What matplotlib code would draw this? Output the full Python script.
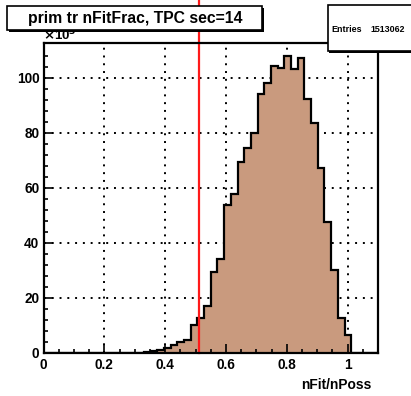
import numpy as np
import matplotlib
matplotlib.use("Agg")
import matplotlib.pyplot as plt
from matplotlib.patches import Rectangle
import matplotlib.transforms as mtransforms

# ---- data (thousands of entries per bin) ----
bin_edges = np.linspace(0.0, 1.1, 51)
counts = [0, 0, 0, 0, 0, 0, 0, 0, 0, 0,
          0, 0, 0, 0, 0, 0.4, 0.7, 1.1, 1.8, 2.9,
          3.8, 4.6, 10.1, 12.6, 17.0, 29.5, 34.1, 53.6, 57.8, 69.5,
          74.3, 79.8, 94.2, 97.9, 104.2, 103.7, 107.8, 103.3, 107.2, 92.4,
          83.6, 67.2, 47.4, 30.1, 12.5, 6.4, 0, 0, 0, 0]
cut_value = 0.51
x_ticks = [0, 0.2, 0.4, 0.6, 0.8, 1.0]
x_ticklabels = ["0", "0.2", "0.4", "0.6", "0.8", "1"]
y_ticks = [0, 20, 40, 60, 80, 100]
y_ticklabels = ["0", "20", "40", "60", "80", "100"]
title = "prim tr nFitFrac, TPC sec=14"
x_label = "nFit/nPoss"
entries = "1513062"

plt.rcParams['font.family'] = ['Liberation Sans', 'DejaVu Sans']
plt.rcParams['font.weight'] = 'bold'

W, H = 411, 396
fig = plt.figure(figsize=(W / 100, H / 100), dpi=100)
ax_l, ax_r, ax_t, ax_b = 43.5, 378.0, 42.5, 352.7
ax = fig.add_axes([ax_l / W, 1 - ax_b / H, (ax_r - ax_l) / W, (ax_b - ax_t) / H])

ax.set_xlim(0, 1.1)
ax.set_ylim(0, 112.8)

# grid
for xv in x_ticks[1:]:
    ax.axvline(xv, color='black', lw=1.4, ls=(0, (1, 3.0)), zorder=0.5)
for yv in y_ticks[1:]:
    ax.axhline(yv, color='black', lw=1.4, ls=(0, (1, 3.0)), zorder=0.5)

ax.stairs(counts, bin_edges, fill=True, color='#c99a7e', zorder=1)
ax.stairs(counts, bin_edges, color='black', lw=1.6, zorder=2, baseline=0)

# cut line, extends to the top of the picture
trans = mtransforms.blended_transform_factory(ax.transData, ax.transAxes)
ax.plot([cut_value, cut_value], [0, ax_b / (ax_b - ax_t)], color='#ff1a1a',
        lw=1.6, transform=trans, clip_on=False, zorder=3)

ax.set_xticks(x_ticks)
ax.set_xticklabels(x_ticklabels)
ax.set_yticks(y_ticks)
ax.set_yticklabels(y_ticklabels)
ax.set_xticks(np.arange(0, 1.1, 0.05), minor=True)
ax.set_yticks(np.arange(0, 112, 4), minor=True)
ax.tick_params(which='both', direction='in', top=False, right=False,
               width=1.2, labelsize=9.8)
ax.tick_params(which='major', length=6.5)
ax.tick_params(which='minor', length=3.2)
ax.tick_params(axis='x', pad=4)
ax.tick_params(axis='y', pad=3)
for lab in ax.get_xticklabels() + ax.get_yticklabels():
    lab.set_fontweight('bold')
for sp in ax.spines.values():
    sp.set_linewidth(1.6)
    sp.set_zorder(4)

# exponent label
fig.text(43 / W, 1 - 40.5 / H, r"$\times$10$^{\mathbf{3}}$", fontsize=9.5,
         fontweight='bold', ha='left', va='baseline')

# x label
fig.text(371 / W, 1 - 385 / H, x_label, fontsize=9.9, fontweight='bold',
         ha='right', va='center')

def box(x0, y0, x1, y1, shadow=2.0):
    # shadow
    fig.add_artist(Rectangle(((x0 + shadow) / W, 1 - (y1 + shadow) / H),
                             (x1 - x0) / W, (y1 - y0) / H,
                             transform=fig.transFigure, facecolor='black',
                             edgecolor='none', zorder=5))
    fig.add_artist(Rectangle((x0 / W, 1 - y1 / H), (x1 - x0) / W, (y1 - y0) / H,
                             transform=fig.transFigure, facecolor='white',
                             edgecolor='black', lw=1.2, zorder=6))

# title box
box(7, 6, 262, 30, shadow=1.5)
fig.text(135 / W, 1 - 18.5 / H, title, fontsize=11.3, fontweight='bold',
         ha='center', va='center', zorder=7)

# stats box
box(327.5, 4.5, 420, 51, shadow=1.5)
fig.text(331.5 / W, 1 - 30 / H, "Entries", fontsize=6.4, fontweight='bold',
         ha='left', va='center', zorder=7)
fig.text(405 / W, 1 - 30 / H, entries, fontsize=6.4, fontweight='bold',
         ha='right', va='center', zorder=7)

fig.savefig("out.png", dpi=100, facecolor='white')
